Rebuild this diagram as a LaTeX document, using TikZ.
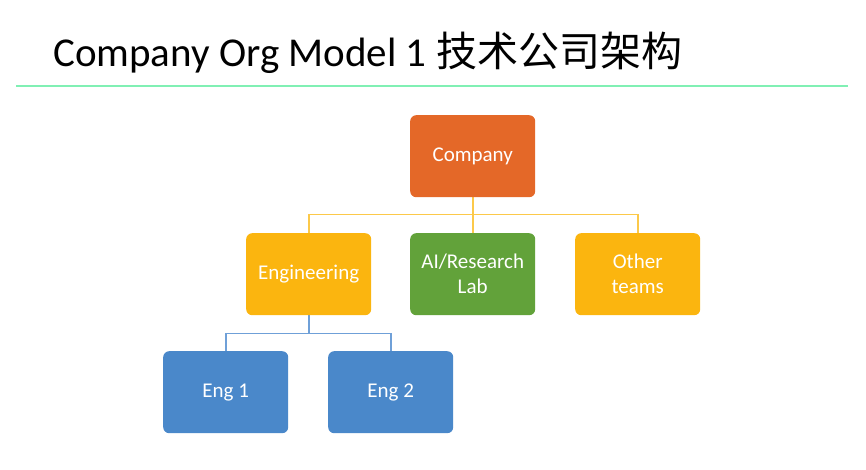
\documentclass[tikz,border=0pt]{standalone}
\usepackage{fontspec}
\usetikzlibrary{backgrounds}
\setmainfont{Carlito}
\newfontfamily\cjk{Noto Sans CJK SC}
\definecolor{corg}{HTML}{E46828}
\definecolor{cyel}{HTML}{FBB50F}
\definecolor{cgrn}{HTML}{62A23A}
\definecolor{cblu}{HTML}{4A88CA}
\definecolor{cline}{HTML}{80F0B4}
\definecolor{cyline}{HTML}{FCC94A}
\definecolor{cbline}{HTML}{6FA0D8}
\tikzset{
  box/.style={rectangle, rounded corners=6pt, minimum width=125pt, minimum height=82pt,
    inner sep=0pt, text=white, font=\fontsize{21}{25}\selectfont, align=center, anchor=north west},
  yconn/.style={cyline, line width=1.6pt},
  bconn/.style={cbline, line width=1.6pt}
}
\begin{document}
\begin{tikzpicture}[x=1pt,y=-1pt]
\useasboundingbox (0,0) rectangle (866,470);
\node[anchor=base west, inner sep=0pt, font=\fontsize{41}{48}\selectfont] (title) at (53,67) {Company Org Model 1 {\cjk 技术公司架构}};
\draw[cline, line width=2pt] (16,86) coordinate (l1) -- (848,86) coordinate (l2);
\node[box, fill=corg] (co) at (410,115) {\raisebox{-2pt}{Company}};
\node[box, fill=cyel] (eng) at (246,233) {Engineering};
\node[box, fill=cgrn] (ai) at (410,233) {AI/Research\\Lab};
\node[box, fill=cyel] (ot) at (575,233) {Other\\teams};
\node[box, fill=cblu] (e1) at (163,351) {Eng 1};
\node[box, fill=cblu] (e2) at (328,351) {Eng 2};
\begin{scope}[on background layer]
\draw[yconn] (co.south) -- (ai.north);
\draw[yconn] (eng.north) -- ++(0,-18.5) -| (ot.north);
\draw[bconn] (eng.south) -- ++(0,18) coordinate (bj);
\draw[bconn] (e1.north) |- (bj) -| (e2.north);
\end{scope}
\end{tikzpicture}
\end{document}
